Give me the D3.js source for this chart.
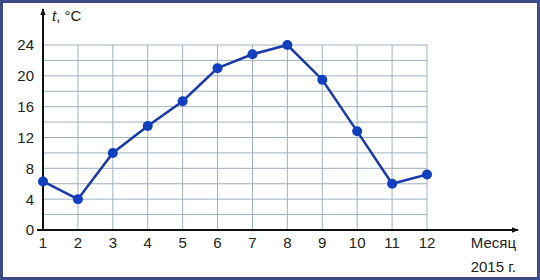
<!DOCTYPE html>
<html>
<head>
<meta charset="utf-8">
<script src="https://cdn.jsdelivr.net/npm/d3@7"></script>
<style>
  body { margin: 0; background: #fff; }
  svg { display: block; font-family: Arial, "Liberation Sans", sans-serif; }
</style>
</head>
<body>
<div id="chart"></div>
<script>
'use strict';

const months = [1, 2, 3, 4, 5, 6, 7, 8, 9, 10, 11, 12];
const temps = [6.3, 4, 10, 13.5, 16.7, 21, 22.8, 24, 19.5, 12.8, 6, 7.2];
const yTicks = [0, 4, 8, 12, 16, 20, 24];
const yGrid = d3.range(2, 25, 2);

const width = 540;
const height = 280;

const svg = d3.select('#chart')
  .append('svg')
  .attr('width', width)
  .attr('height', height);

// frame
svg.append('rect')
  .attr('x', 1.5).attr('y', 1.5)
  .attr('width', width - 3).attr('height', height - 3)
  .attr('fill', '#fff')
  .attr('stroke', '#3d4b88')
  .attr('stroke-width', 3);

const x = d3.scaleLinear().domain([1, 12]).range([43, 427]);
const y = d3.scaleLinear().domain([0, 24]).range([230, 45]);

const gridColor = '#9fb1c0';

// horizontal grid
svg.append('g')
  .selectAll('line')
  .data(yGrid)
  .join('line')
  .attr('x1', x(1)).attr('x2', x(12))
  .attr('y1', d => y(d)).attr('y2', d => y(d))
  .attr('stroke', gridColor)
  .attr('stroke-width', 1);

// vertical grid
svg.append('g')
  .selectAll('line')
  .data(months.slice(1))
  .join('line')
  .attr('x1', d => x(d)).attr('x2', d => x(d))
  .attr('y1', y(0)).attr('y2', y(24))
  .attr('stroke', gridColor)
  .attr('stroke-width', 1);

// axes with arrows
const defs = svg.append('defs');
defs.append('marker')
  .attr('id', 'arrow')
  .attr('viewBox', '0 0 10 10')
  .attr('refX', 9).attr('refY', 5)
  .attr('markerWidth', 7).attr('markerHeight', 7)
  .attr('markerUnits', 'userSpaceOnUse')
  .attr('orient', 'auto')
  .append('path')
  .attr('d', 'M0,1 L10,5 L0,9 Z')
  .attr('fill', '#111');

svg.append('line')
  .attr('x1', 37).attr('x2', 518)
  .attr('y1', y(0)).attr('y2', y(0))
  .attr('stroke', '#111').attr('stroke-width', 2)
  .attr('marker-end', 'url(#arrow)');

svg.append('line')
  .attr('x1', x(1)).attr('x2', x(1))
  .attr('y1', y(0) + 1).attr('y2', 9)
  .attr('stroke', '#111').attr('stroke-width', 2)
  .attr('marker-end', 'url(#arrow)');

// y tick labels
svg.append('g')
  .selectAll('text')
  .data(yTicks)
  .join('text')
  .attr('x', 34)
  .attr('y', d => y(d))
  .attr('dy', '0.36em')
  .attr('text-anchor', 'end')
  .attr('font-size', 15)
  .attr('fill', '#222')
  .text(d => d);

// x tick labels
svg.append('g')
  .selectAll('text')
  .data(months)
  .join('text')
  .attr('x', d => x(d))
  .attr('y', 248)
  .attr('text-anchor', 'middle')
  .attr('font-size', 15)
  .attr('fill', '#222')
  .text(d => d);

// axis titles
const yTitle = svg.append('text')
  .attr('x', 52).attr('y', 21)
  .attr('font-size', 15)
  .attr('fill', '#222');
yTitle.append('tspan').attr('font-style', 'italic').text('t');
yTitle.append('tspan').text(', °C');

svg.append('text')
  .attr('x', 516).attr('y', 248)
  .attr('text-anchor', 'end')
  .attr('font-size', 15)
  .attr('fill', '#222')
  .text('Месяц');

svg.append('text')
  .attr('x', 516).attr('y', 272)
  .attr('text-anchor', 'end')
  .attr('font-size', 15)
  .attr('fill', '#222')
  .text('2015 г.');

// data line
const line = d3.line()
  .x((d, i) => x(months[i]))
  .y(d => y(d));

svg.append('path')
  .datum(temps)
  .attr('d', line)
  .attr('fill', 'none')
  .attr('stroke', '#1a3aa8')
  .attr('stroke-width', 2.5);

svg.append('g')
  .selectAll('circle')
  .data(temps)
  .join('circle')
  .attr('cx', (d, i) => x(months[i]))
  .attr('cy', d => y(d))
  .attr('r', 5)
  .attr('fill', '#1040c0');
</script>
</body>
</html>
